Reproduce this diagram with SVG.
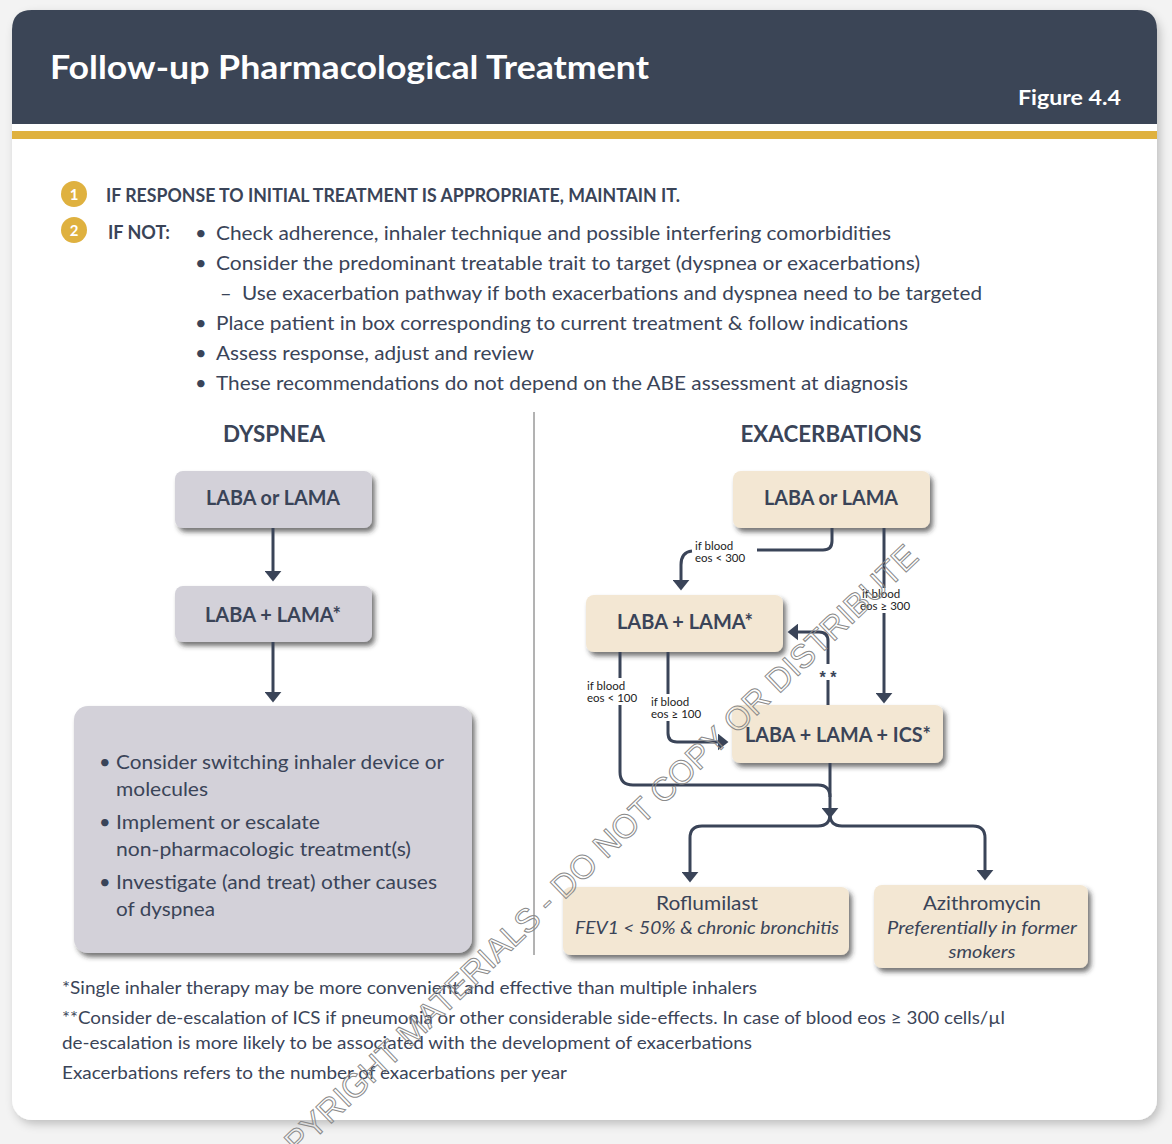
<svg xmlns="http://www.w3.org/2000/svg" width="1172" height="1144" viewBox="0 0 1172 1144">
<defs>
<style>
text{font-family:Lato,"Open Sans","Liberation Sans",sans-serif;fill:#3a4458}
.hd{fill:#ffffff;font-weight:bold}
.b{font-weight:bold}
.li{font-size:20px}
.bx{font-size:20px;font-weight:bold;text-anchor:middle}
.sm{font-size:11.5px;fill:#222}
.fn{font-size:18px}
.it{font-style:italic;font-size:18px}
.gray{fill:#d3d1d9}
.beige{fill:#f3e7d3}
.con{fill:none;stroke:#3a4458;stroke-width:3}
.wm{fill:none;stroke:#8a8a8a;stroke-width:1;font-family:"Liberation Sans",Arial,sans-serif;font-size:33px}
</style>
<filter id="sh" x="-10%" y="-10%" width="130%" height="140%">
<feDropShadow dx="3" dy="4" stdDeviation="2.5" flood-color="#2b2b2b" flood-opacity="0.65"/>
</filter>
<filter id="cardsh" x="-5%" y="-5%" width="110%" height="110%">
<feDropShadow dx="3" dy="4" stdDeviation="5" flood-color="#000" flood-opacity="0.22"/>
</filter>
<marker id="ah" viewBox="0 0 10 16" refX="3" refY="8" markerWidth="11" markerHeight="17" markerUnits="userSpaceOnUse" orient="auto">
<path d="M0,0 L10,8 L0,16 z" fill="#3a4458"/>
</marker>
</defs>
<rect x="0" y="0" width="1172" height="1144" fill="#f3f3f3"/>
<g id="card">
<rect x="12" y="10" width="1145" height="1110" rx="20" fill="#ffffff" filter="url(#cardsh)"/>
<path d="M12,124 V30 Q12,10 32,10 H1137 Q1157,10 1157,30 V124 Z" fill="#3b4556"/>
<rect x="12" y="131" width="1145" height="8" fill="#dfb13f"/>
<text class="hd" x="50" y="79" font-size="32" textLength="599" lengthAdjust="spacingAndGlyphs">Follow-up Pharmacological Treatment</text>
<text class="hd" x="1018" y="105" font-size="21" textLength="103" lengthAdjust="spacingAndGlyphs">Figure 4.4</text>
</g>
<g id="intro">
<circle cx="74" cy="194" r="13" fill="#dfb13f"/>
<text x="74" y="199.5" font-size="15" class="hd" text-anchor="middle">1</text>
<circle cx="74" cy="230" r="13" fill="#dfb13f"/>
<text x="74" y="235.5" font-size="15" class="hd" text-anchor="middle">2</text>
<text class="b" x="106" y="202" font-size="18" textLength="574" lengthAdjust="spacingAndGlyphs">IF RESPONSE TO INITIAL TREATMENT IS APPROPRIATE, MAINTAIN IT.</text>
<text class="b" x="108" y="239" font-size="18" textLength="62" lengthAdjust="spacingAndGlyphs">IF NOT:</text>
<text class="li" x="195" y="240">•</text>
<text class="li" x="216" y="240" textLength="675" lengthAdjust="spacingAndGlyphs">Check adherence, inhaler technique and possible interfering comorbidities</text>
<text class="li" x="195" y="270">•</text>
<text class="li" x="216" y="270" textLength="704" lengthAdjust="spacingAndGlyphs">Consider the predominant treatable trait to target (dyspnea or exacerbations)</text>
<text class="li" x="220" y="300">–</text>
<text class="li" x="242" y="300" textLength="740" lengthAdjust="spacingAndGlyphs">Use exacerbation pathway if both exacerbations and dyspnea need to be targeted</text>
<text class="li" x="195" y="330">•</text>
<text class="li" x="216" y="330" textLength="692" lengthAdjust="spacingAndGlyphs">Place patient in box corresponding to current treatment &amp; follow indications</text>
<text class="li" x="195" y="360">•</text>
<text class="li" x="216" y="360" textLength="318" lengthAdjust="spacingAndGlyphs">Assess response, adjust and review</text>
<text class="li" x="195" y="390">•</text>
<text class="li" x="216" y="390" textLength="692" lengthAdjust="spacingAndGlyphs">These recommendations do not depend on the ABE assessment at diagnosis</text>
</g>
<g id="headings">
<text class="b" x="274" y="442" font-size="22" text-anchor="middle" textLength="102" lengthAdjust="spacingAndGlyphs">DYSPNEA</text>
<text class="b" x="831" y="442" font-size="22" text-anchor="middle" textLength="181" lengthAdjust="spacingAndGlyphs">EXACERBATIONS</text>
<line x1="534" y1="412" x2="534" y2="955" stroke="#666" stroke-width="1"/>
</g>
<g id="d1">
<rect class="gray" x="175" y="471" width="197" height="57" rx="8" filter="url(#sh)"/>
<text class="bx" x="273" y="505" textLength="134" lengthAdjust="spacingAndGlyphs">LABA or LAMA</text>
</g>
<g id="d2">
<rect class="gray" x="175" y="586" width="197" height="56" rx="8" filter="url(#sh)"/>
<text class="bx" x="273" y="622" textLength="136" lengthAdjust="spacingAndGlyphs">LABA + LAMA*</text>
</g>
<g id="d3">
<rect class="gray" x="74" y="706" width="398" height="247" rx="14" filter="url(#sh)"/>
<text class="li" x="99" y="769">•</text>
<text class="li" x="116" y="769" textLength="328" lengthAdjust="spacingAndGlyphs">Consider switching inhaler device or</text>
<text class="li" x="116" y="796" textLength="92" lengthAdjust="spacingAndGlyphs">molecules</text>
<text class="li" x="99" y="829">•</text>
<text class="li" x="116" y="829" textLength="204" lengthAdjust="spacingAndGlyphs">Implement or escalate</text>
<text class="li" x="116" y="856" textLength="295" lengthAdjust="spacingAndGlyphs">non-pharmacologic treatment(s)</text>
<text class="li" x="99" y="889">•</text>
<text class="li" x="116" y="889" textLength="321" lengthAdjust="spacingAndGlyphs">Investigate (and treat) other causes</text>
<text class="li" x="116" y="916" textLength="99" lengthAdjust="spacingAndGlyphs">of dyspnea</text>
</g>
<g id="e1">
<rect class="beige" x="733" y="471" width="197" height="57" rx="8" filter="url(#sh)"/>
<text class="bx" x="831" y="505" textLength="134" lengthAdjust="spacingAndGlyphs">LABA or LAMA</text>
</g>
<g id="e2">
<rect class="beige" x="586" y="595" width="197" height="57" rx="8" filter="url(#sh)"/>
<text class="bx" x="685" y="629" textLength="136" lengthAdjust="spacingAndGlyphs">LABA + LAMA*</text>
</g>
<g id="e3">
<rect class="beige" x="732" y="705" width="211" height="58" rx="8" filter="url(#sh)"/>
<text class="bx" x="838" y="742" textLength="186" lengthAdjust="spacingAndGlyphs">LABA + LAMA + ICS*</text>
</g>
<g id="e4">
<rect class="beige" x="563" y="887" width="286" height="68" rx="8" filter="url(#sh)"/>
<text x="707" y="910" font-size="20" text-anchor="middle" textLength="102" lengthAdjust="spacingAndGlyphs">Roflumilast</text>
<text class="it" x="707" y="934" text-anchor="middle" textLength="264" lengthAdjust="spacingAndGlyphs">FEV1 &lt; 50% &amp; chronic bronchitis</text>
</g>
<g id="e5">
<rect class="beige" x="874" y="885" width="214" height="83" rx="8" filter="url(#sh)"/>
<text x="982" y="910" font-size="20" text-anchor="middle" textLength="118" lengthAdjust="spacingAndGlyphs">Azithromycin</text>
<text class="it" x="982" y="934" text-anchor="middle" textLength="190" lengthAdjust="spacingAndGlyphs">Preferentially in former</text>
<text class="it" x="982" y="958" text-anchor="middle" textLength="67" lengthAdjust="spacingAndGlyphs">smokers</text>
</g>
<g id="connectors">
<path class="con" d="M273,528 V574" marker-end="url(#ah)"/>
<path class="con" d="M273,642 V695" marker-end="url(#ah)"/>
<path class="con" d="M832,528 V541 Q832,550 823,550 H757"/>
<path class="con" d="M692,551 Q681,552 681,565 V583" marker-end="url(#ah)"/>
<path class="con" d="M884,528 V696" marker-end="url(#ah)"/>
<path class="con" d="M828,705 V641 Q828,632 819,632 H795" marker-end="url(#ah)"/>
<path class="con" d="M620,652 V772 Q620,785 633,785 H818 Q830,785 830,797"/>
<path class="con" d="M668,652 V733 Q668,742 677,742 H721" marker-end="url(#ah)"/>
<path class="con" d="M830,763 V811" marker-end="url(#ah)"/>
<path class="con" d="M830,814 Q830,826 818,826 H702 Q690,826 690,838 V875" marker-end="url(#ah)"/>
<path class="con" d="M830,814 Q830,826 842,826 H973 Q985,826 985,838 V873" marker-end="url(#ah)"/>
<rect x="858" y="588" width="58" height="25" fill="#ffffff"/>
<rect x="817" y="664" width="22" height="16" fill="#ffffff"/>
<rect x="585" y="678" width="60" height="27" fill="#ffffff"/>
<rect x="649" y="694" width="60" height="27" fill="#ffffff"/>
<text class="sm" x="695" y="550">if blood</text>
<text class="sm" x="695" y="562">eos &lt; 300</text>
<text class="sm" x="862" y="598">if blood</text>
<text class="sm" x="860" y="610">eos ≥ 300</text>
<text x="828" y="683" font-size="16" font-weight="bold" style="font-family:'Liberation Sans',Arial,sans-serif" fill="#3a4458" text-anchor="middle">* *</text>
<text class="sm" x="587" y="690">if blood</text>
<text class="sm" x="587" y="702">eos &lt; 100</text>
<text class="sm" x="651" y="706">if blood</text>
<text class="sm" x="651" y="718">eos ≥ 100</text>
</g>
<g id="footnotes">
<text class="fn" x="62" y="994" textLength="695" lengthAdjust="spacingAndGlyphs">*Single inhaler therapy may be more convenient and effective than multiple inhalers</text>
<text class="fn" x="62" y="1024" textLength="943" lengthAdjust="spacingAndGlyphs">**Consider de-escalation of ICS if pneumonia or other considerable side-effects. In case of blood eos ≥ 300 cells/µl</text>
<text class="fn" x="62" y="1049" textLength="690" lengthAdjust="spacingAndGlyphs">de-escalation is more likely to be associated with the development of exacerbations</text>
<text class="fn" x="62" y="1079" textLength="505" lengthAdjust="spacingAndGlyphs">Exacerbations refers to the number of exacerbations per year</text>
</g>
<g id="watermark">
<text class="wm" x="262" y="1190" transform="rotate(-43.8 262 1190)" textLength="912" lengthAdjust="spacingAndGlyphs">COPYRIGHT MATERIALS - DO NOT COPY OR DISTRIBUTE</text>
</g>
</svg>
